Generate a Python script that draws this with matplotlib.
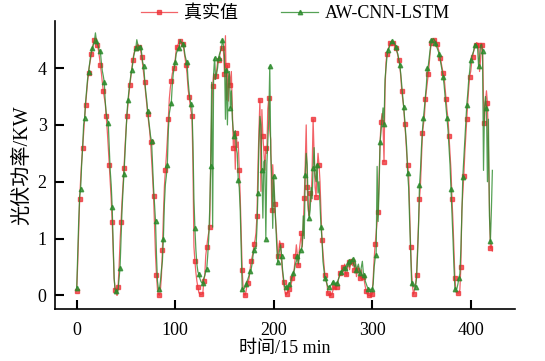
import numpy as np
import matplotlib
matplotlib.use("Agg")
import matplotlib.pyplot as plt

plt.rcParams['font.family'] = ['Liberation Serif', 'Noto Sans CJK SC']
plt.rcParams['axes.unicode_minus'] = False

# measured PV power (kW), one value per 15 min step, split by day
real_d1 = [0.08, 0.55, 1.15, 1.7, 2.05, 2.35, 2.6, 2.85, 3.1, 3.35, 3.55, 3.75, 3.92, 4.05,
           4.15, 4.25, 4.35, 4.45, 4.5, 4.52, 4.45, 4.4, 4.32, 4.2, 4.05, 3.92, 3.75, 3.6,
           3.48, 3.38, 3.15, 2.9, 2.62, 2.3, 2.0, 1.7, 1.3, 0.8, 0.3, 0.09, 0.03]
real_d2 = [0.0, 0.15, 0.5, 0.95, 1.3, 1.65, 1.95, 2.24, 2.6, 2.9, 3.15, 3.35, 3.55, 3.7,
           3.85, 4.0, 4.15, 4.25, 4.32, 4.36, 4.4, 4.42, 4.38, 4.36, 4.3, 4.2, 4.05, 3.9,
           3.75, 3.55, 3.38, 3.2, 3.05, 2.9, 2.7, 2.4, 2.09, 1.75, 1.2, 0.71, 0.35, 0.1, 0.02]
real_d3 = [0.0, 0.1, 0.33, 0.8, 1.4, 1.91, 2.2, 2.45, 2.74, 3.1, 3.46, 3.65, 3.78, 3.9,
           3.98, 4.01, 4.15, 4.32, 4.38, 4.42, 4.46, 4.47, 4.45, 4.43, 4.42, 4.3, 4.18, 4.05,
           3.9, 3.65, 3.5, 3.38, 3.25, 3.16, 2.3, 0.86, 0.6, 0.4, 0.25, 0.15, 0.05, 0.02,
           0.02, 0.02, 0.03, 0.25]
real_d4 = [0.35, 0.7, 0.85, 1.0, 1.1, 1.21, 2.3, 3.2, 3.69, 3.9, 3.8, 3.86, 3.95, 4.1,
           4.15, 4.2, 4.3, 4.35, 4.35, 4.3, 3.9, 4.57, 3.44, 4.05, 3.42, 3.9, 3.7, 3.94,
           3.3, 2.6, 2.88, 2.22, 2.85, 2.6, 2.7, 2.2, 1.74, 1.1, 0.45, 0.12, 0.02]
real_d5 = [0.0, 0.08, 0.2, 0.22, 0.3, 0.45, 0.6, 0.67, 0.75, 0.9, 0.97, 1.1, 1.4, 2.27,
           2.9, 3.44, 1.83, 3.27, 2.8, 2.53, 2.2, 2.6, 2.5, 3.28, 3.47, 2.9, 2.74, 1.5,
           2.3, 1.91, 1.6, 1.3, 1.06, 0.7, 0.8, 0.96, 0.89, 0.6, 0.4, 0.24, 0.1, 0.02]
real_d6 = [0.02, 0.05, 0.1, 0.12, 0.15, 0.22, 0.3, 0.36, 0.5, 0.7, 0.89, 0.7, 0.53, 0.8,
           0.95, 1.09, 0.85, 1.2, 1.71, 2.3, 3.0, 1.9, 1.5, 1.4, 1.8, 1.65, 2.2, 3.1,
           2.5, 1.9, 1.74, 2.2, 2.5, 2.3, 2.0, 1.5, 0.97, 0.75, 0.55, 0.35, 0.25, 0.21, 0.04]
real_d7 = [0.01, 0.0, 0.0, 0.02, 0.08, 0.15, 0.12, 0.2, 0.15, 0.22, 0.3, 0.4, 0.35, 0.45,
           0.5, 0.42, 0.55, 0.38, 0.35, 0.5, 0.58, 0.45, 0.55, 0.6, 0.52, 0.6, 0.45, 0.55,
           0.33, 0.45, 0.5, 0.4, 0.3, 0.45, 0.28, 0.33, 0.25, 0.15, 0.08, 0.02, 0.0, 0.0,
           0.0, 0.0]
real_d8 = [0.02, 0.3, 0.65, 0.9, 1.1, 1.3, 1.46, 2.1, 2.7, 3.06, 3.2, 3.0, 2.35, 3.6,
           4.1, 4.25, 4.32, 4.38, 4.44, 4.46, 4.47, 4.45, 4.42, 4.4, 4.36, 4.3, 4.22, 4.15,
           4.05, 3.85, 3.6, 3.45, 3.32, 3.02, 2.8, 2.5, 2.3, 2.13, 1.5, 0.86, 0.4, 0.15, 0.02]
real_d9 = [0.1, 0.2, 0.35, 0.8, 1.3, 1.7, 1.94, 2.4, 2.85, 3.0, 3.15, 3.45, 3.6, 3.75,
           3.9, 4.1, 4.3, 4.44, 4.48, 4.5, 4.5, 4.48, 4.47, 4.42, 4.35, 4.28, 4.18, 4.1,
           4.0, 3.92, 3.85, 3.65, 3.45, 3.25, 3.1, 2.8, 2.53, 2.2, 1.7, 1.3, 0.8, 0.3,
           0.06, 0.05, 0.04]
real_d10 = [0.04, 0.1, 0.5, 1.5, 1.8, 2.1, 2.5, 2.8, 3.1, 3.4, 3.65, 3.85, 3.94, 4.1,
            4.2, 4.3, 4.35, 4.4, 4.45, 4.43, 4.4, 3.94, 4.15, 4.4, 4.42, 3.44, 3.03, 3.4,
            3.6, 3.38, 2.6, 1.6, 0.83, 0.9, 0.78]

# AW-CNN-LSTM prediction, same steps
pred_d1 = [0.13, 0.7, 1.3, 1.75, 1.88, 2.3, 2.6, 3.0, 3.12, 3.4, 3.6, 3.8, 3.93, 4.05,
           4.2, 4.3, 4.36, 4.42, 4.48, 4.62, 4.48, 4.45, 4.38, 4.3, 4.3, 4.1, 3.95, 3.86,
           3.75, 3.4, 3.2, 3.1, 3.04, 2.6, 2.2, 1.95, 1.56, 0.9, 0.3, 0.1, 0.07]
pred_d2 = [0.06, 0.1, 0.3, 0.49, 1.0, 1.5, 1.85, 2.14, 2.5, 2.85, 3.2, 3.43, 3.6, 3.75,
           3.88, 3.97, 4.1, 4.22, 4.3, 4.35, 4.5, 4.42, 4.35, 4.38, 4.38, 4.25, 4.1, 4.04,
           3.8, 3.6, 3.45, 3.25, 3.1, 2.95, 2.8, 2.71, 2.3, 1.9, 1.6, 1.31, 0.7, 0.25, 0.11]
pred_d3 = [0.12, 0.25, 0.45, 0.6, 1.0, 1.6, 1.95, 2.1, 2.3, 2.9, 3.2, 3.3, 3.38, 3.7,
           3.9, 4.0, 4.1, 4.25, 4.3, 4.35, 4.36, 4.5, 4.46, 4.44, 4.43, 4.35, 4.22, 4.15,
           4.1, 3.8, 3.6, 3.45, 3.37, 3.3, 2.7, 1.7, 1.18, 0.8, 0.55, 0.42, 0.37, 0.3,
           0.25, 0.22, 0.22, 0.3]
pred_d4 = [0.35, 0.42, 0.47, 0.7, 1.0, 1.5, 2.27, 3.75, 1.2, 3.9, 4.18, 3.8, 3.9, 4.0,
           4.18, 4.25, 4.3, 4.35, 4.5, 4.4, 4.2, 3.1, 3.97, 3.0, 3.8, 3.94, 3.3, 3.6,
           3.1, 2.9, 2.8, 2.9, 2.6, 2.5, 2.03, 1.9, 1.5, 0.8, 0.12, 0.1, 0.12]
pred_d5 = [0.15, 0.2, 0.25, 0.3, 0.35, 0.43, 0.45, 0.55, 0.7, 0.8, 0.85, 0.82, 1.2, 1.8,
           2.68, 3.15, 3.0, 2.2, 1.36, 2.35, 2.38, 1.0, 2.3, 2.7, 3.1, 4.03, 2.5, 2.1,
           1.18, 2.1, 1.7, 1.3, 0.9, 0.59, 0.7, 0.8, 0.89, 0.7, 0.45, 0.3, 0.15, 0.15]
pred_d6 = [0.12, 0.1, 0.15, 0.2, 0.22, 0.3, 0.35, 0.4, 0.45, 0.55, 0.6, 0.7, 0.56, 0.7,
           0.8, 0.8, 0.9, 1.4, 1.0, 2.12, 2.5, 2.3, 1.6, 1.36, 1.5, 1.9, 1.7, 2.24,
           2.6, 2.1, 2.0, 2.3, 1.8, 2.0, 1.6, 1.21, 1.0, 0.6, 0.45, 0.3, 0.3, 0.2, 0.15]
pred_d7 = [0.15, 0.15, 0.18, 0.2, 0.24, 0.2, 0.2, 0.22, 0.21, 0.25, 0.3, 0.35, 0.42, 0.4,
           0.45, 0.5, 0.48, 0.45, 0.55, 0.5, 0.6, 0.5, 0.58, 0.62, 0.64, 0.55, 0.5, 0.58,
           0.45, 0.5, 0.55, 0.45, 0.4, 0.5, 0.6, 0.4, 0.35, 0.25, 0.2, 0.15, 0.12, 0.1,
           0.11, 0.1]
pred_d8 = [0.11, 0.2, 0.5, 0.65, 0.71, 2.27, 1.3, 1.9, 2.7, 2.9, 3.1, 3.3, 3.02, 3.8,
           4.0, 4.2, 4.32, 4.35, 4.4, 4.45, 4.48, 4.46, 4.44, 4.42, 4.38, 4.3, 4.25, 4.15,
           4.05, 3.9, 3.7, 3.5, 3.32, 3.1, 2.85, 2.6, 2.15, 1.9, 1.3, 0.8, 0.21, 0.18, 0.15]
pred_d9 = [0.15, 0.15, 0.3, 0.7, 1.2, 1.94, 2.2, 2.6, 2.9, 3.13, 3.3, 3.5, 3.7, 4.0,
           4.05, 4.2, 4.35, 4.5, 4.48, 4.52, 4.5, 4.45, 4.4, 4.35, 4.3, 4.25, 4.15, 4.05,
           3.95, 3.85, 3.7, 3.5, 3.3, 3.12, 2.9, 2.6, 2.3, 1.88, 1.5, 1.0, 0.5, 0.11,
           0.1, 0.12, 0.2]
pred_d10 = [0.3, 0.38, 0.8, 1.4, 2.09, 2.4, 2.7, 3.0, 3.35, 3.55, 3.8, 3.95, 4.15, 4.2,
            4.25, 4.3, 4.4, 4.42, 4.4, 4.35, 4.03, 4.2, 4.4, 4.42, 4.3, 2.2, 3.3, 3.5,
            3.3, 2.0, 3.1, 1.4, 0.95, 1.5, 2.2]

real = np.concatenate([real_d1, real_d2, real_d3, real_d4, real_d5,
                       real_d6, real_d7, real_d8, real_d9, real_d10])
pred = np.concatenate([pred_d1, pred_d2, pred_d3, pred_d4, pred_d5,
                       pred_d6, pred_d7, pred_d8, pred_d9, pred_d10])
t = np.arange(len(real))

xticks = [0, 100, 200, 300, 400]
yticks = [0, 1, 2, 3, 4]

fig = plt.figure(figsize=(5.45, 3.61), dpi=100)
ax = fig.add_axes([0.101, 0.144, 0.844, 0.798])

ax.plot(t, real, color='#ee2f35', lw=0.9, alpha=0.75, marker='s', ms=2.4,
        markevery=3, label='真实值')
ax.plot(t, pred, color='#2b8a2b', lw=0.9, alpha=0.8, marker='^', ms=3.2,
        markevery=4, label='AW-CNN-LSTM')

ax.set_xlim(-22, 445)
ax.set_ylim(-0.24, 4.83)
ax.set_xticks(xticks)
ax.set_yticks(yticks)
ax.tick_params(direction='in', length=6.5, width=1.5, labelsize=13)
ax.tick_params(axis='x', pad=9)
ax.tick_params(axis='y', pad=6)
for s in ['top', 'right']:
    ax.spines[s].set_visible(False)
for s in ['left', 'bottom']:
    ax.spines[s].set_linewidth(1.2)

ax.set_xlabel('时间/15 min', fontsize=13, labelpad=1)
ax.set_ylabel('光伏功率/KW', fontsize=14.5, labelpad=4)

fig.legend(loc='center', bbox_to_anchor=(0.542, 0.962), ncol=2, frameon=False,
           fontsize=13, handlelength=2.0, handletextpad=0.4, columnspacing=2.4)

fig.savefig('out.png', dpi=100)
